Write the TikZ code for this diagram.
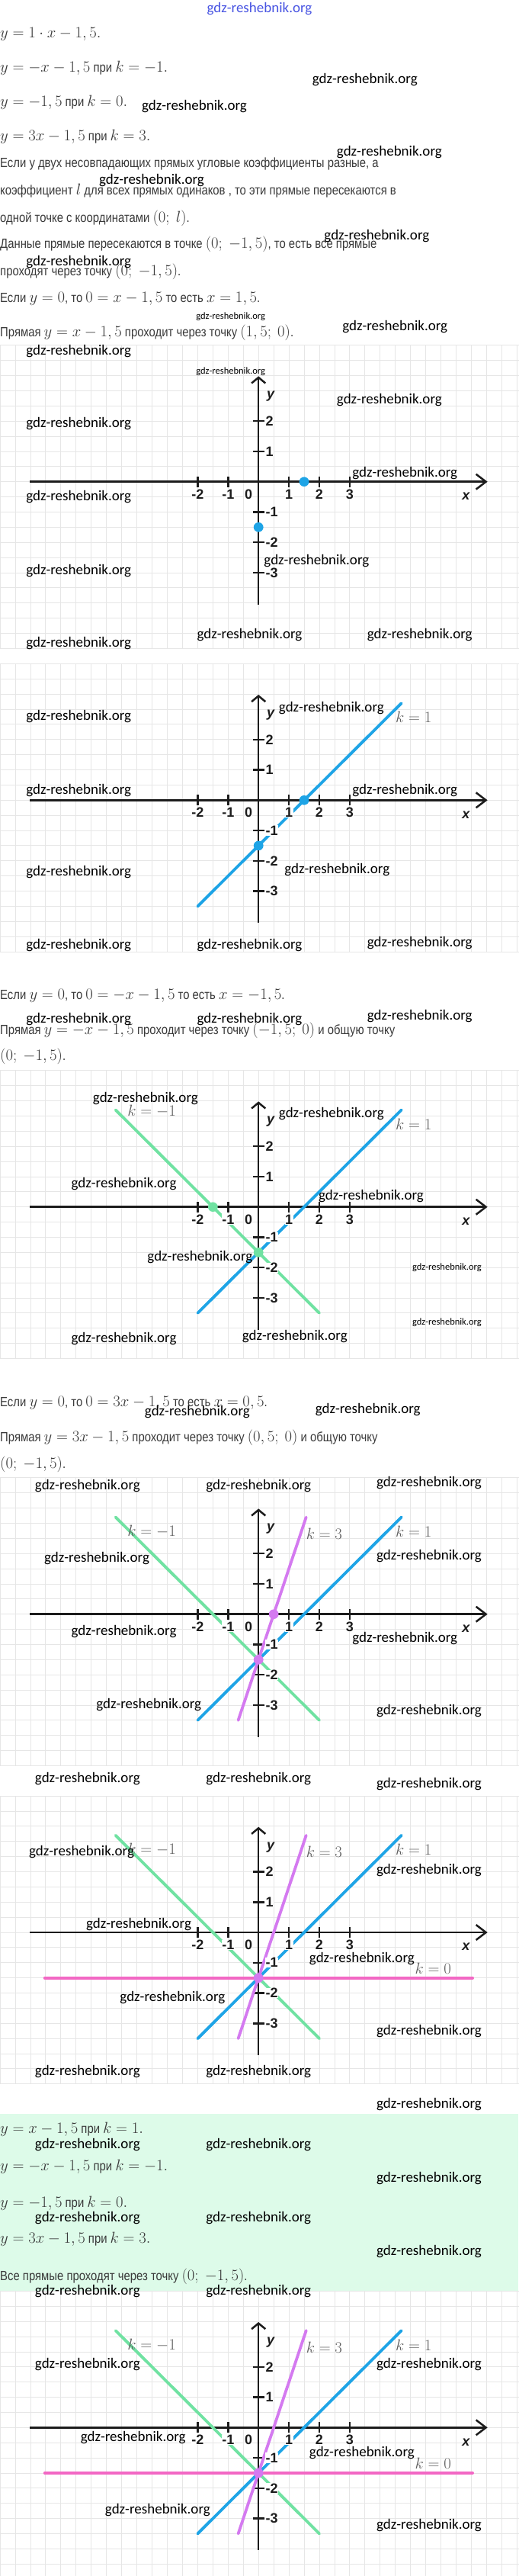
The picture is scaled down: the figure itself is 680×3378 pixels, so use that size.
\documentclass[tikz,border=0pt]{standalone}
\usepackage[no-math]{fontspec}
\newfontfamily\ru[FakeStretch=0.85]{Liberation Sans}
\newfontfamily\lbf{Liberation Sans}
\newfontfamily\wmf{Carlito}
\definecolor{txt}{HTML}{3A3A3A}
\definecolor{axc}{HTML}{1C1C1C}
\definecolor{kc}{HTML}{5E5E5E}
\definecolor{blu}{RGB}{30,164,230}
\definecolor{grn}{RGB}{112,226,162}
\definecolor{prp}{RGB}{212,122,240}
\definecolor{pnk}{RGB}{242,104,196}
\definecolor{boxc}{RGB}{221,251,233}
\definecolor{gridc}{HTML}{E6E6E6}
\definecolor{wmblue}{RGB}{72,84,226}
\newcommand\m[1]{{\fontsize{20}{24}\selectfont$#1$}}
\newcommand\GridAxes[1]{%
  \fill[white] (-8.51,4.5) rectangle (8.6,-#1);
  \draw[gridline] (-8.51,-#1) grid[xstep=0.5,ystep=0.5] (8.6,4.5);
  \draw[axis] (-7.52,0) -- (7.48,0);
  \draw[axis] (0,-4.05) -- (0,3.44);
  \draw[axis] (7.154,0.25) -- (7.48,0) -- (7.154,-0.25);
  \draw[axis] (-0.228,3.25) -- (0,3.44) -- (0.228,3.25);
  \foreach \i in {-2,-1,1,2,3} \draw[axis] (\i,-0.176) -- (\i,0.176);
  \foreach \j in {-3,-2,-1,1,2} \draw[axis] (-0.19,\j) -- (0.19,\j);
}
\newcommand\TickLabels{%
  \foreach \i in {-2,-1,1,2,3} \node[lab] (xl\i) at (\i,-0.41) {\i};
  \node[lab] (xl0) at (-0.33,-0.41) {0};
  \foreach \j in {-3,-2,-1,1,2} \node[lab,anchor=west] (yl\j) at (0.22,\j) {\j};
  \node[lab,fill=none] (xname) at (6.82,-0.48) {\itshape x};
  \node[lab,fill=none] (yname) at (0.4,2.81) {\itshape y};
}
\newcommand\Dot[2]{\fill[#1] (#2) ellipse [x radius=6.4pt, y radius=6.3pt];}
\newcommand\Lblue{\draw[cl,blu] (-2,-3.5) -- (4.7,3.2);}
\newcommand\Lgreen{\draw[cl,grn] (-4.7,3.2) -- (2,-3.5);}
\newcommand\Lpurple{\draw[cl,prp] (-0.6667,-3.5) -- (1.5667,3.2);}
\newcommand\Lpink{\draw[cl,pnk] (-7.03,-1.5) -- (7.04,-1.5);}
\begin{document}
\begin{tikzpicture}[x=1pt,y=-1pt,
  gridline/.style={draw=gridc, line width=0.9pt},
  axis/.style={draw=axc, line width=2.5pt, line cap=butt, line join=miter},
  cl/.style={line width=3.8pt, line cap=round},
  lab/.style={font=\lbf\bfseries\fontsize{18}{20}\selectfont, text=axc, fill=white, inner sep=0.4pt},
  klab/.style={font=\fontsize{19.5}{22}\selectfont, text=kc, inner sep=0},
  tl/.style={anchor=base west, inner sep=0, text=txt, font=\ru\fontsize{17.5}{20}\selectfont},
  wmk/.style={font=\wmf\fontsize{19}{22}\selectfont, text=black, inner sep=0},
  wms/.style={font=\wmf\fontsize{12.5}{15}\selectfont, text=black, inner sep=0}]
\useasboundingbox (0,0) rectangle (680,3378);
\fill[white] (0,0) rectangle (680,3378);

% ---------- text, part 1
\node[tl] (l1) at (0,49.3) {\m{y=1\cdot x-1,5.}};
\node[tl] (l2) at (0,94.3) {\m{y=-x-1,5} при \m{k=-1.}};
\node[tl] (l3) at (0,139.3) {\m{y=-1,5} при \m{k=0.}};
\node[tl] (l4) at (0,184.3) {\m{y=3x-1,5} при \m{k=3.}};
\node[tl] (l5) at (0,219) {Если у двух несовпадающих прямых угловые коэффициенты разные, а};
\node[tl] (l6) at (0,255) {коэффициент \m{l} для всех прямых одинаков , то эти прямые пересекаются в};
\node[tl] (l7) at (0,291) {одной точке с координатами \m{(0;\ l)}.};
\node[tl] (l8) at (0,325.7) {Данные прямые пересекаются в точке \m{(0;\ -1,5)}, то есть все прямые};
\node[tl] (l9) at (0,361.7) {проходят через точку \m{(0;\ -1,5)}.};
\node[tl] (l10) at (0,396.7) {Если \m{y=0}, то \m{0=x-1,5} то есть \m{x=1,5}.};
\node[tl] (l11) at (0,441.7) {Прямая \m{y=x-1,5} проходит через точку \m{(1,5;\ 0)}.};

% ---------- panel 1
\begin{scope}[shift={(339.2,631.7)},x=39.9pt,y=39.75pt]
  \GridAxes{5.5}
  \Dot{blu}{1.5,0}
  \Dot{blu}{0,-1.5}
  \TickLabels
\end{scope}

% ---------- panel 2
\begin{scope}[shift={(339.2,1049.3)},x=39.9pt,y=39.75pt]
  \GridAxes{5}
  \Lblue
  \Dot{blu}{1.5,0}
  \Dot{blu}{0,-1.5}
  \TickLabels
  \node[klab] (k1b) at (5.1,2.73) {$k=1$};
\end{scope}

\node[tl] (l12) at (0,1310.7) {Если \m{y=0}, то \m{0=-x-1,5} то есть \m{x=-1,5}.};
\node[tl] (l13) at (0,1356) {Прямая \m{y=-x-1,5} проходит через точку \m{(-1,5;\ 0)} и общую точку};
\node[tl] (l14) at (0,1390.7) {\m{(0;\ -1,5)}.};

% ---------- panel 3
\begin{scope}[shift={(339.2,1582.7)},x=39.9pt,y=39.75pt]
  \GridAxes{5}
  \Lblue
  \Lgreen
  \Dot{grn}{-1.5,0}
  \Dot{grn}{0,-1.5}
  \TickLabels
  \node[klab] (k1c) at (5.1,2.73) {$k=1$};
  \node[klab] (kmc) at (-3.51,3.16) {$k=-1$};
\end{scope}

\node[tl] (l15) at (0,1844.3) {Если \m{y=0}, то \m{0=3x-1,5} то есть \m{x=0,5}.};
\node[tl] (l16) at (0,1890) {Прямая \m{y=3x-1,5} проходит через точку \m{(0,5;\ 0)} и общую точку};
\node[tl] (l17) at (0,1925) {\m{(0;\ -1,5)}.};

% ---------- panel 4
\begin{scope}[shift={(339.2,2116.7)},x=39.9pt,y=39.75pt]
  \GridAxes{5}
  \Lgreen
  \Lblue
  \Lpurple
  \Dot{prp}{0.5,0}
  \Dot{prp}{0,-1.5}
  \TickLabels
  \node[klab] (k1d) at (5.1,2.73) {$k=1$};
  \node[klab] (kmd) at (-3.51,2.73) {$k=-1$};
  \node[klab] (k3d) at (2.16,2.64) {$k=3$};
\end{scope}

% ---------- panel 5
\begin{scope}[shift={(339.2,2534)},x=39.9pt,y=39.75pt]
  \GridAxes{5}
  \Lgreen
  \Lblue
  \Lpink
  \Lpurple
  \Dot{prp}{0,-1.5}
  \TickLabels
  \node[klab] (k1e) at (5.1,2.73) {$k=1$};
  \node[klab] (kme) at (-3.51,2.73) {$k=-1$};
  \node[klab] (k3e) at (2.16,2.66) {$k=3$};
  \node[klab] (k0e) at (5.74,-1.2) {$k=0$};
\end{scope}

% ---------- summary box
\fill[boxc] (0,2771.7) rectangle (680,3005);
\node[tl] (l18) at (0,2797.3) {\m{y=x-1,5} при \m{k=1.}};
\node[tl] (l19) at (0,2846) {\m{y=-x-1,5} при \m{k=-1.}};
\node[tl] (l20) at (0,2894) {\m{y=-1,5} при \m{k=0.}};
\node[tl] (l21) at (0,2941.7) {\m{y=3x-1,5} при \m{k=3.}};
\node[tl] (l22) at (0,2990.7) {Все прямые проходят через точку \m{(0;\ -1,5)}.};

% ---------- panel 6
\begin{scope}[shift={(339.2,3183.3)},x=39.9pt,y=39.75pt]
  \GridAxes{5}
  \Lgreen
  \Lblue
  \Lpink
  \Lpurple
  \Dot{prp}{0,-1.5}
  \TickLabels
  \node[klab] (k1f) at (5.1,2.73) {$k=1$};
  \node[klab] (kmf) at (-3.51,2.73) {$k=-1$};
  \node[klab] (k3f) at (2.16,2.65) {$k=3$};
  \node[klab] (k0f) at (5.74,-1.19) {$k=0$};
\end{scope}

% ---------- watermarks
\node[wmk,text=wmblue] (w0) at (340.5,12) {gdz-reshebnik.org};
\foreach \x/\y [count=\n] in {478.8/105, 255/140, 510.9/200, 199/236.7, 494.4/309.3, 103.2/344,
  518.2/428.3, 103.2/461, 510.9/525, 103.2/556, 531.2/620.7, 103.2/651.7, 415.4/736, 103.2/748.3,
  327.5/832.7, 550.7/832.7, 103.2/844, 103.2/940, 434.9/928.3, 103.2/1036.7, 531.2/1036.7,
  103.2/1144, 442.3/1140.7, 103.2/1240, 327.5/1240, 550.7/1236.7, 103.2/1336.7, 327.5/1336.7,
  550.7/1332.7, 190.9/1440.7, 434.9/1460.7, 162.6/1552.7, 487/1568.3, 262.4/1648.3,
  162.6/1756, 386.8/1752.7, 258.9/1851.7, 482.7/1848.3, 114.9/1948.3, 339.2/1948.3, 563/1945,
  127.1/2043.3, 563/2040.7, 162.6/2140, 531.2/2148.3, 195.2/2236, 563/2244,
  114.9/2332.7, 339.2/2332.7, 563/2340, 107.1/2428.3, 563/2452.7, 182.1/2524,
  474.9/2568.3, 226.4/2620, 563/2664, 114.9/2716.7, 339.2/2716.7, 563/2760,
  114.9/2812.7, 339.2/2812.7, 563/2856.7, 114.9/2908.3, 339.2/2908.3, 563/2952.7,
  114.9/3004, 339.2/3004, 114.9/3100.7, 563/3100.7, 174.7/3196, 474.9/3216,
  206.9/3291.7, 563/3311.7}
  \node[wmk] (w\n) at (\x,\y) {gdz-reshebnik.org};
\foreach \x/\y [count=\n] in {302.7/415, 302.7/487.3, 586.4/1662.7, 586.4/1734}
  \node[wms] (ws\n) at (\x,\y) {gdz-reshebnik.org};
\end{tikzpicture}
\end{document}
